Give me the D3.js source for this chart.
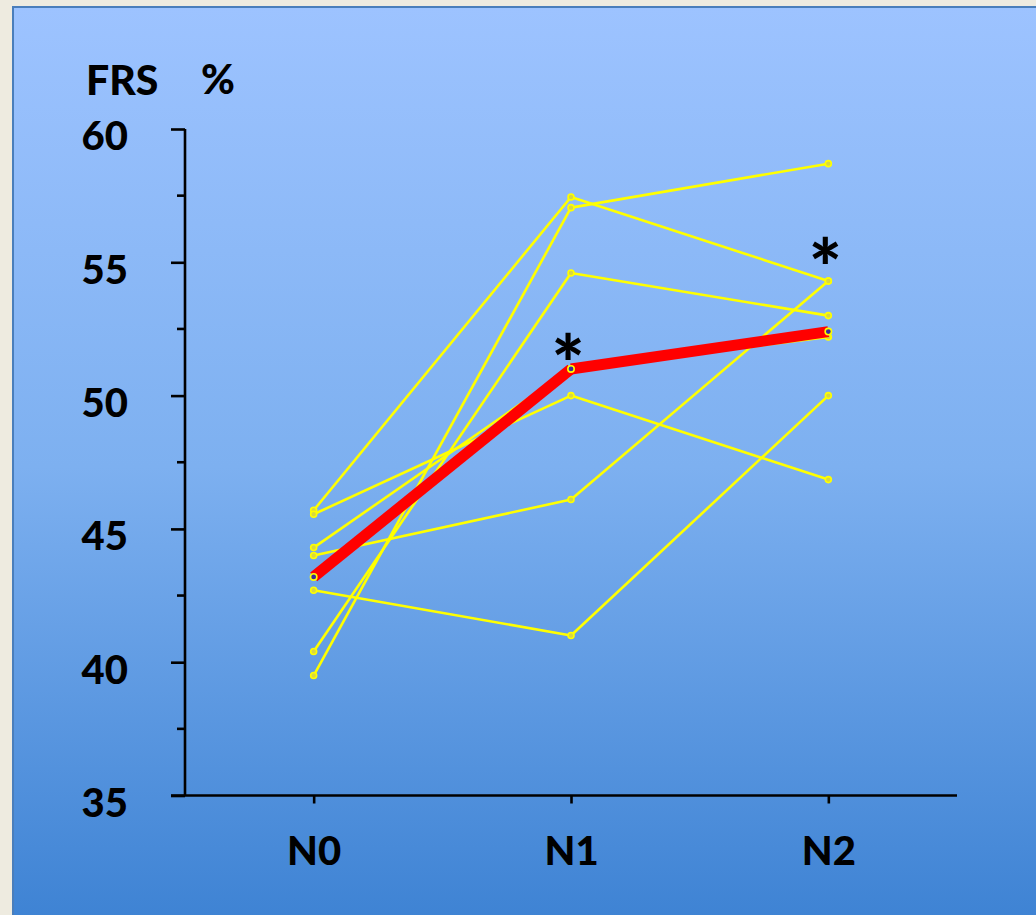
<!DOCTYPE html>
<html>
<head>
<meta charset="utf-8">
<script src="https://cdn.jsdelivr.net/npm/d3@7"></script>
<style>
  html, body { margin: 0; padding: 0; background: #EEEBE0; }
  svg { display: block; }
  text { font-family: Lato, "Open Sans", "Liberation Sans", sans-serif; font-weight: 900; fill: #000; }
</style>
</head>
<body>
<svg id="chart" width="1036" height="915"></svg>
<script>
// Visits (categories on the x axis)
const visits = ["N0", "N1", "N2"];

// FRS (%) for each subject at N0, N1, N2
const subject1 = [45.7, 57.45, 54.3];
const subject2 = [45.55, 50.0, 46.85];
const subject3 = [44.3, 51.0, 52.2];
const subject4 = [44.0, 46.1, 54.3];
const subject5 = [42.7, 41.0, 50.0];
const subject6 = [40.4, 54.6, 53.0];
const subject7 = [39.5, 57.05, 58.7];
const subjects = [subject1, subject2, subject3, subject4, subject5, subject6, subject7];

// Group mean FRS (%)
const meanValues = [43.2, 51.0, 52.4];

// Y axis ticks
const yTicks = [35, 40, 45, 50, 55, 60];
const yMinorTicks = [37.5, 42.5, 47.5, 52.5, 57.5];

// Significance marks: visit and the FRS level at the centre of each mark
const starVisits = ["N1", "N2"];
const starLevels = [51.9, 55.5];

const svg = d3.select("#chart");

// Panel with vertical blue gradient
const defs = svg.append("defs");
const grad = defs.append("linearGradient")
  .attr("id", "panelFill").attr("x1", 0).attr("y1", 0).attr("x2", 0).attr("y2", 1);
grad.append("stop").attr("offset", "0%").attr("stop-color", "#9DC3FF");
grad.append("stop").attr("offset", "50%").attr("stop-color", "#7DB0F0");
grad.append("stop").attr("offset", "100%").attr("stop-color", "#3D82D3");

svg.append("rect")
  .attr("x", 13).attr("y", 7).attr("width", 1040).attr("height", 920)
  .attr("fill", "url(#panelFill)")
  .attr("stroke", "#4A7EBB").attr("stroke-width", 2);

// Scales
const x = d3.scalePoint().domain(visits).range([185, 957]).padding(0.5);
const y = d3.scaleLinear().domain([35, 60]).range([795.5, 129]);

// Y axis
const yAxis = d3.axisLeft(y).tickValues(yTicks).tickSize(14).tickFormat(d3.format("d"));
const gy = svg.append("g").attr("transform", "translate(185,0)").call(yAxis);
gy.select(".domain").attr("stroke", "#000").attr("stroke-width", 2.6)
  .attr("d", `M0,${y(60)}V${y(35)}`);
gy.selectAll(".tick line").attr("stroke", "#000").attr("stroke-width", 2.6);
gy.selectAll(".tick text")
  .attr("x", -57).attr("dy", "0.62em").attr("y", -4)
  .attr("text-anchor", "end")
  .style("font-size", "40px").style("font-family", "Lato, sans-serif").style("font-weight", 900);

// Minor ticks
svg.append("g").selectAll("line").data(yMinorTicks).join("line")
  .attr("x1", 177).attr("x2", 185)
  .attr("y1", d => y(d)).attr("y2", d => y(d))
  .attr("stroke", "#000").attr("stroke-width", 2.6);

// X axis
const xAxis = d3.axisBottom(x).tickSize(8).tickSizeOuter(0);
const gx = svg.append("g").attr("transform", `translate(0,${y(35)})`).call(xAxis);
gx.select(".domain").attr("stroke", "#000").attr("stroke-width", 2.6)
  .attr("d", "M171,0H957");
gx.selectAll(".tick line").attr("stroke", "#000").attr("stroke-width", 2.6);
gx.selectAll(".tick text")
  .attr("y", 55).attr("dy", "0.35em")
  .style("font-size", "40px").style("font-family", "Lato, sans-serif").style("font-weight", 900);

// Subject lines
const line = d3.line().x((d, i) => x(visits[i])).y(d => y(d));
svg.append("g").selectAll("path").data(subjects).join("path")
  .attr("d", line)
  .attr("fill", "none").attr("stroke", "#FFFF00").attr("stroke-width", 2.6)
  .attr("stroke-linejoin", "round");

// Subject markers
const pts = subjects.flatMap(s => s.map((v, i) => ({ v, i })));
svg.append("g").selectAll("circle").data(pts).join("circle")
  .attr("cx", d => x(visits[d.i])).attr("cy", d => y(d.v)).attr("r", 3)
  .attr("fill", "#D9D840").attr("stroke", "#FFFF00").attr("stroke-width", 1.6);

// Mean line: drawn as separate thick segments
const segs = meanValues.slice(1).map((v, i) => [[x(visits[i]), y(meanValues[i])], [x(visits[i + 1]), y(v)]]);
svg.append("g").selectAll("path").data(segs).join("path")
  .attr("d", d => d3.line()(d))
  .attr("fill", "none").attr("stroke", "#FF0000").attr("stroke-width", 11)
  .attr("stroke-linecap", "butt");

// Mean markers
svg.append("g").selectAll("circle").data(meanValues).join("circle")
  .attr("cx", (d, i) => x(visits[i])).attr("cy", d => y(d)).attr("r", 3.2)
  .attr("fill", "#3B2E9A").attr("stroke", "#FFFF00").attr("stroke-width", 1.6);

// Significance asterisks
svg.append("g").selectAll("text").data(starVisits).join("text")
  .attr("x", d => x(d) - 3)
  .attr("y", (d, i) => y(starLevels[i]) + 47)
  .attr("text-anchor", "middle")
  .style("font-size", "78px")
  .text("*");

// Axis title
svg.append("text").attr("x", 86).attr("y", 95).style("font-size", "41px").text("FRS");
svg.append("text").attr("x", 201).attr("y", 94).style("font-size", "41px").text("%");
</script>
</body>
</html>
